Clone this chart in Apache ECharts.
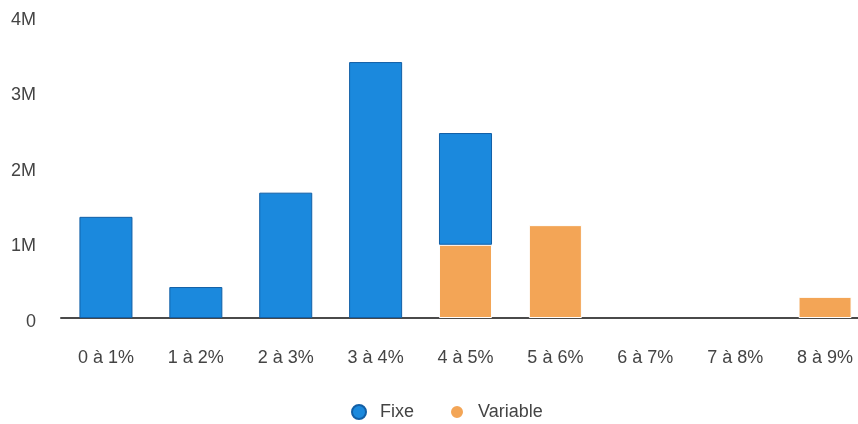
<!DOCTYPE html>
<html>
<head>
<meta charset="utf-8">
<script src="https://cdn.jsdelivr.net/npm/echarts@6/dist/echarts.min.js"></script>
<style>
  html, body { margin: 0; padding: 0; background: #ffffff; }
  #chart { width: 858px; height: 424px; }
</style>
</head>
<body>
<div id="chart"></div>
<script>
// Tranches de taux et montants (en millions)
const categories = ['0 à 1%', '1 à 2%', '2 à 3%', '3 à 4%', '4 à 5%', '5 à 6%', '6 à 7%', '7 à 8%', '8 à 9%'];
const fixe = [1.34, 0.41, 1.66, 3.39, 1.48, 0, 0, 0, 0];
const variable = [0, 0, 0, 0, 0.97, 1.23, 0, 0, 0.28];
const yTicks = [0, 1, 2, 3, 4];

// empty tranches are left out so no outline is drawn on the axis
const asBars = arr => arr.map(v => (v === 0 ? '-' : v));

const chart = echarts.init(document.getElementById('chart'));
chart.setOption({
  animation: false,
  textStyle: { fontFamily: 'Liberation Sans, Arial, sans-serif' },
  grid: { left: 61, top: 16, width: 809, bottom: 106, outerBoundsMode: 'none' },
  legend: {
    top: 398,
    left: 346,
    itemGap: 35,
    icon: 'circle',
    itemWidth: 14,
    itemHeight: 14,
    textStyle: { fontSize: 18, color: '#444', padding: [0, 0, 0, 9] },
    data: ['Fixe', 'Variable']
  },
  xAxis: {
    type: 'category',
    data: categories,
    axisLine: { lineStyle: { color: '#4a4a4a', width: 2 } },
    axisTick: { show: false },
    axisLabel: { fontSize: 18, color: '#444', margin: 31 }
  },
  yAxis: {
    type: 'value',
    min: yTicks[0],
    max: yTicks[yTicks.length - 1],
    interval: 1,
    splitLine: { show: false },
    axisLine: { show: false },
    axisTick: { show: false },
    axisLabel: {
      fontSize: 18,
      color: '#444',
      margin: 25,
      verticalAlign: 'top',
      lineHeight: 8,
      formatter: v => (v === 0 ? '0' : v + 'M')
    }
  },
  series: [
    {
      name: 'Variable',
      type: 'bar',
      stack: 'total',
      barWidth: '59%',
      data: asBars(variable),
      itemStyle: { color: '#f3a556', borderColor: '#ffffff', borderWidth: 1 }
    },
    {
      name: 'Fixe',
      type: 'bar',
      stack: 'total',
      barWidth: '59%',
      data: asBars(fixe),
      itemStyle: { color: '#1b89dd', borderColor: '#125fa6', borderWidth: 1 }
    }
  ]
});
</script>
</body>
</html>
